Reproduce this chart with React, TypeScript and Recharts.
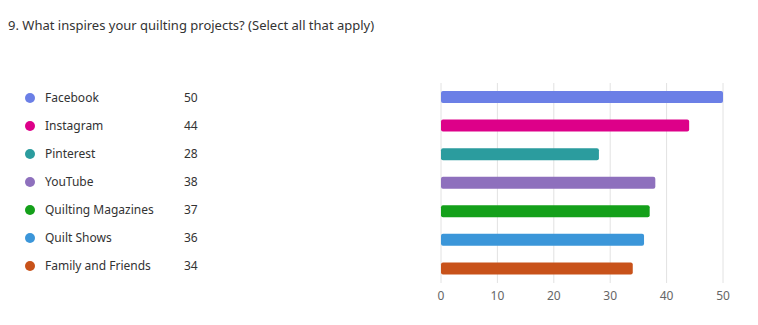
import { BarChart, Bar, XAxis, YAxis, CartesianGrid, Cell } from 'recharts';

const categories = ['Facebook', 'Instagram', 'Pinterest', 'YouTube', 'Quilting Magazines', 'Quilt Shows', 'Family and Friends'];
const counts = [50, 44, 28, 38, 37, 36, 34];
const colors = ['#6b7fe6', '#dd0089', '#2b9c9e', '#8e70bd', '#14a01a', '#3b96d9', '#c8521a'];
const xTicks = [0, 10, 20, 30, 40, 50];

const title = '9. What inspires your quilting projects? (Select all that apply)';

const data = categories.map((name, i) => ({ name, value: counts[i] }));

const font = '"Noto Sans", "Open Sans", sans-serif';

export default function App() {
  return (
    <div style={{ position: 'absolute', top: 0, left: 0, width: 758, height: 325, background: '#fff', fontFamily: font, color: '#333' }}>
      <div style={{ position: 'absolute', left: 8, top: 16, fontSize: 13, lineHeight: '18px', whiteSpace: 'nowrap' }}>
        {title}
      </div>

      {data.map((d, i) => (
        <div key={d.name} style={{ position: 'absolute', left: 25, top: 89 + i * 28, height: 18, fontSize: 12, lineHeight: '18px', whiteSpace: 'nowrap' }}>
          <span style={{ position: 'absolute', left: 0, top: 4, width: 10, height: 10, borderRadius: '50%', background: colors[i] }} />
          <span style={{ position: 'absolute', left: 20 }}>{d.name}</span>
          <span style={{ position: 'absolute', left: 159 }}>{d.value}</span>
        </div>
      ))}

      <div style={{ position: 'absolute', left: 0, top: 0 }}>
        <BarChart
          width={758}
          height={325}
          data={data}
          layout="vertical"
          margin={{ top: 83, right: 35, bottom: 12, left: 441 }}
        >
          <CartesianGrid horizontal={false} stroke="#e2e2e2" />
          <XAxis
            type="number"
            domain={[0, 50]}
            ticks={xTicks}
            axisLine={false}
            tickLine={false}
            tick={{ fontSize: 12, fill: '#666', fontFamily: font }}
            height={30}
          />
          <YAxis type="category" dataKey="name" hide width={0} />
          <Bar dataKey="value" barSize={12} radius={2} isAnimationActive={false}>
            {data.map((d, i) => (
              <Cell key={d.name} fill={colors[i]} />
            ))}
          </Bar>
        </BarChart>
      </div>
    </div>
  );
}
